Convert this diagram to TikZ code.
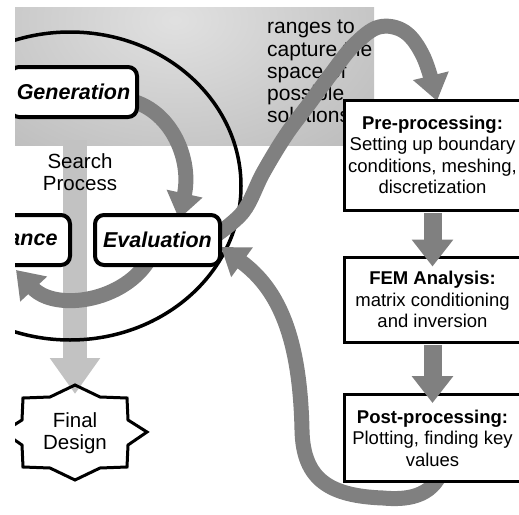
\documentclass[tikz,border=0pt]{standalone}
\usepackage{fontspec}
\setmainfont{Liberation Sans}
\usetikzlibrary{arrows.meta}
\definecolor{bandlight}{gray}{0.88}
\definecolor{banddark}{gray}{0.72}
\definecolor{darkarrow}{gray}{0.5}
\definecolor{lightbar}{gray}{0.76}
\begin{document}
\begin{tikzpicture}[x=1pt,y=-1pt,
  rbox/.style={draw=black, line width=4pt, rounded corners=9pt, fill=white, inner sep=0pt, font=\fontsize{21.5}{24}\selectfont\bfseries\itshape},
  sqbox/.style={draw=black, line width=3pt, fill=white, inner sep=0pt, minimum width=177pt, align=center, font=\fontsize{18.5}{21.5}\selectfont},
  bigarrow/.style={draw=darkarrow, line width=18pt, -{Triangle[width=40pt,length=27pt]}},
  curvearrow/.style={draw=darkarrow, line width=15pt, -{Triangle[width=35pt,length=26pt]}},
  lightarrow/.style={draw=lightbar, line width=24pt, -{Triangle[width=48pt,length=36pt]}},
  lbl/.style={font=\fontsize{20.5}{22.5}\selectfont, align=center, inner sep=0pt},
  bandtxt/.style={font=\fontsize{21}{22.3}\selectfont, align=left, inner sep=0pt}
]
\useasboundingbox (0,0) rectangle (519,514);
\begin{scope}
\clip (15,7) rectangle (519,514);
% shaded band
\begin{scope}
\clip (15,7) rectangle (374,145);
\shade[inner color=bandlight, outer color=banddark] (175,20) ellipse [x radius=300pt, y radius=200pt];
\end{scope}
\node[bandtxt, anchor=north west] (band) at (267,20) {ranges to\\capture the\\space of\\possible\\solutions.};
% star fill
\path[fill=white] (75,385) -- (100,397) -- (127,398) -- (128,420) -- (147,432) -- (128,445) -- (127,467) -- (100,468) -- (75,480) -- (50,468) -- (23,467) -- (22,445) -- (3,432) -- (22,420) -- (23,398) -- (50,397) -- cycle;
% light arrow to final design
\coordinate (barstart) at (75,140);
\coordinate (fdtop) at (75,394);
\draw[lightarrow] (barstart) -- (fdtop);
% star outline
\draw[line width=3pt, line join=miter] (75,385) -- (100,397) -- (127,398) -- (128,420) -- (147,432) -- (128,445) -- (127,467) -- (100,468) -- (75,480) -- (50,468) -- (23,467) -- (22,445) -- (3,432) -- (22,420) -- (23,398) -- (50,397) -- cycle;
\node[lbl] (fdtext) at (75,433) {Final\\Design};
% search ellipse
\draw[line width=3.5pt] (70,186) ellipse [x radius=171pt, y radius=154pt];
\node[lbl] (search) at (80,172) {Search\\Process};
% endpoints of curved connectors
\coordinate (gs) at (132,101);
\coordinate (ge) at (179,219);
\coordinate (es) at (150,258);
\coordinate (ee) at (16,270);
\coordinate (ps) at (212,238);
\coordinate (pe) at (437,101);
\coordinate (qs) at (442,470);
\coordinate (qe) at (221,247);
% curved dark arrows
\draw[curvearrow] (gs) .. controls (172,112) and (192,160) .. (ge);
\draw[curvearrow] (es) .. controls (125,302) and (55,312) .. (ee);
\draw[curvearrow] plot[smooth, tension=0.6] coordinates {(ps) (243,212) (263,173) (286,135) (309,104) (331,74) (354,45) (379,27) (405,32) (424,58) (pe)};
\draw[curvearrow] (qs) .. controls (432,498) and (405,500) .. (383,498)
   .. controls (330,496) and (303,480) .. (302,430)
   .. controls (300,340) and (280,290) .. (qe);
% rounded boxes
\node[rbox, minimum width=127pt, minimum height=50pt] (gen) at (73.5,92) {Generation};
\node[rbox, minimum width=125pt, minimum height=50pt] (eval) at (157.5,240) {Evaluation};
\node[rbox, minimum width=74pt, minimum height=50pt] (ance) at (33,240) {ance};
% square boxes
\node[sqbox, minimum height=110pt] (pre) at (432.5,155) {\textbf{Pre-processing:}\\Setting up boundary\\conditions, meshing,\\discretization};
\node[sqbox, minimum height=85pt] (fem) at (432.5,299.5) {\textbf{FEM Analysis:}\\matrix conditioning\\and inversion};
\node[sqbox, minimum height=87pt] (post) at (432.5,438) {\textbf{Post-processing:}\\Plotting, finding key\\values};
% straight arrows
\draw[bigarrow] ([yshift=-1.5pt]pre.south) -- ([yshift=-11pt]fem.north);
\draw[bigarrow] ([yshift=-1.5pt]fem.south) -- ([yshift=-10pt]post.north);
\end{scope}
\end{tikzpicture}
\end{document}
